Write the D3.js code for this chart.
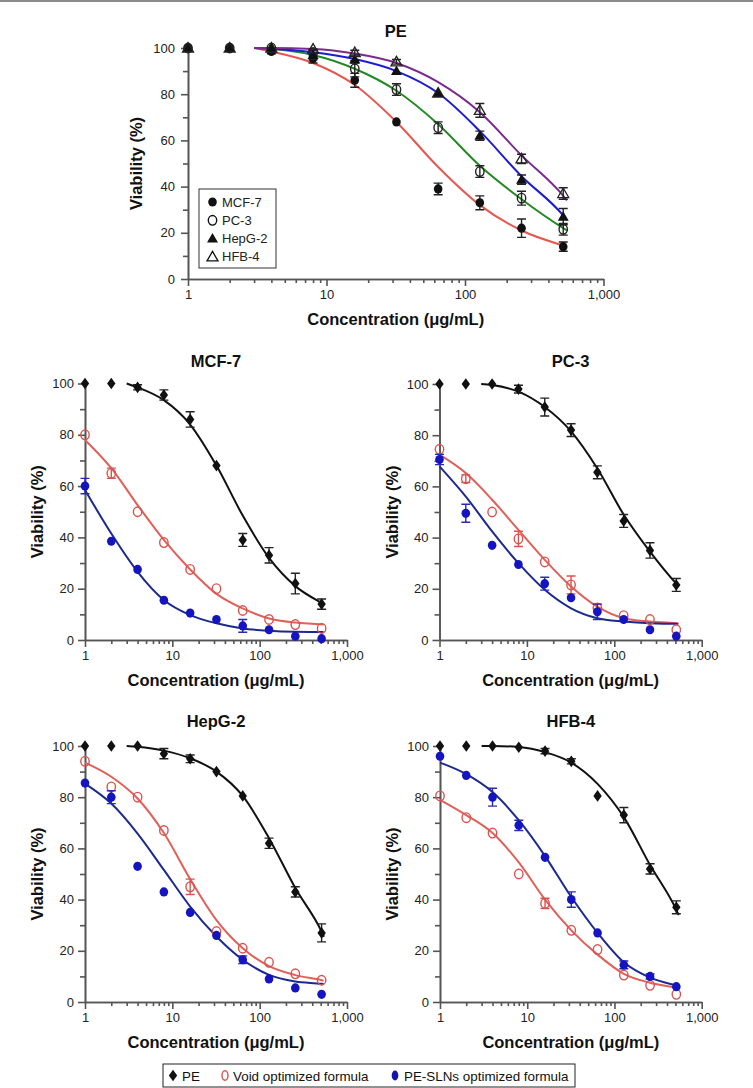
<!DOCTYPE html>
<html>
<head>
<meta charset="utf-8">
<script src="https://cdn.jsdelivr.net/npm/d3@7"></script>
<style>
  body { margin: 0; background: #fff; }
  text { font-family: "Liberation Sans", Arial, sans-serif; }
</style>
</head>
<body>
<svg id="chart" width="753" height="1088"></svg>
<script>
// concentrations (µg/mL), doubling series
const conc = [1, 2, 4, 8, 16, 32, 64, 128, 256, 512];
const fitConcPE = [3, 4, 8, 16, 32, 64, 128, 256, 512, 545];
const fitConcLow = [1, 2, 4, 8, 16, 32, 64, 128, 256, 512, 540];

// PE on each cell line (used in the top panel and as black series below)
const peMCF7  = [100, 100, 98.5, 95.5, 86, 68, 39, 33, 22, 14];
const peMCF7Err = [0, 0, 1, 2, 3, 0, 2.5, 3, 4, 2];
const pePC3   = [100, 100, 100, 98, 91, 82, 65.5, 46.5, 35, 21.5];
const pePC3Err = [0, 0, 0, 1.5, 3.5, 2.5, 2.5, 2.5, 3, 2.5];
const peHepG2 = [100, 100, 100, 97, 95, 90, 80.5, 62, 43, 27];
const peHepG2Err = [0, 0, 0, 2, 1.5, 0, 0, 2, 2, 3.5];
const peHFB4  = [100, 100, 100, 99.5, 98, 94, 80.5, 73, 52, 37];
const peHFB4Err = [0, 0, 0, 0, 1, 1, 0, 3, 2, 2.5];

// fitted curves for PE
const fitPEMCF7  = [100, 98.5, 93.5, 84, 68, 48.5, 32, 21, 14.5, 14];
const fitPEPC3   = [100, 99.6, 97, 91, 81.5, 67, 49, 34.5, 22, 21];
const fitPEHepG2 = [100, 99.7, 98.2, 95.2, 90, 80.5, 64, 44.5, 27.5, 25.5];
const fitPEHFB4  = [100, 100, 99.6, 97.6, 93.5, 85.2, 72.2, 53.5, 36, 34];

// void optimized formula
const voidMCF7  = [80, 65, 50, 38, 27.5, 20, 11.5, 8, 6, 4.5];
const voidMCF7Err = [0, 2, 0, 0, 0, 0, 0, 0, 0, 0];
const voidPC3   = [74.5, 63, 50, 39.5, 30.5, 21.5, 12.5, 9.5, 8, 4];
const voidPC3Err = [0, 1.5, 0, 3, 0, 3.5, 1.5, 0, 0, 0];
const voidHepG2 = [94, 84, 80, 67, 45, 27.5, 21, 15.5, 11, 8.5];
const voidHepG2Err = [0, 0, 0, 0, 3, 0, 0, 0, 0, 0];
const voidHFB4  = [80.5, 72, 66, 50, 38.5, 28, 20.5, 10.5, 6.5, 3];
const voidHFB4Err = [0, 0, 0, 0, 2, 0, 0, 0, 0, 0];

const fitVoidMCF7  = [78, 67, 52.6, 39, 27.5, 18, 12.3, 8.4, 6.8, 6.1, 6];
const fitVoidPC3   = [72.4, 65.2, 54.8, 43, 31.3, 20.9, 13, 8.5, 7.2, 6.5, 6.4];
const fitVoidHepG2 = [93.5, 88, 79.5, 66, 48, 32, 21, 14, 10.5, 8.5, 8.3];
const fitVoidHFB4  = [79, 73, 66, 54.5, 40, 28, 18.5, 11, 7.5, 5.5, 5.3];

// PE-SLNs optimized formula
const slnMCF7  = [60, 38.5, 27.5, 15.5, 10.5, 8, 5.5, 4, 1.5, 0.5];
const slnMCF7Err = [3, 0, 0, 0, 0, 0, 2.5, 0, 0, 0];
const slnPC3   = [70.5, 49.5, 37, 29.5, 22, 16.5, 11, 8, 4, 1.5];
const slnPC3Err = [2, 3.5, 0, 0, 2.5, 0, 3, 0, 0, 0];
const slnHepG2 = [85.5, 80, 53, 43, 35, 26, 16.5, 9, 5.5, 3];
const slnHepG2Err = [0, 2.5, 0, 0, 0, 0, 1.5, 0, 0, 0];
const slnHFB4  = [96, 88.5, 80, 69, 56.5, 40, 27, 14.5, 10, 6];
const slnHFB4Err = [0, 0, 3.5, 2, 0, 3, 0, 1.5, 1, 0];

const fitSlnMCF7  = [58.5, 41.5, 26.6, 15.6, 9.7, 6.5, 4.5, 3.6, 3.2, 3.1, 3.1];
const fitSlnPC3   = [67.8, 56, 42.4, 30, 19.6, 12.4, 8.5, 7.2, 6.5, 6.3, 6.3];
const fitSlnHepG2 = [85.3, 77.5, 65.8, 51.6, 37.3, 25.6, 16.5, 10.6, 8, 7.1, 7];
const fitSlnHFB4  = [93.5, 89, 82, 71, 57, 41, 27, 15.5, 9.5, 6.5, 6.3];

const cellLines = ["MCF-7", "PC-3", "HepG-2", "HFB-4"];
const formulas = ["PE", "Void optimized formula", "PE-SLNs optimized formula"];
const majorTicksX = [1, 10, 100, 1000];
const majorTicksY = [0, 20, 40, 60, 80, 100];
const minorTicksY = [10, 30, 50, 70, 90];

const svg = d3.select("#chart");
svg.append("rect").attr("x", 0).attr("y", 0).attr("width", 753).attr("height", 2).attr("fill", "#8a8a8a");

const minorTicksX = [1, 10, 100].flatMap(b => d3.range(2, 10).map(m => m * b));

function markerPath(shape) {
  if (shape === "diamond") return "M0,-5.8L4.2,0L0,5.8L-4.2,0Z";
  if (shape === "tri" || shape === "triOpen") return "M0,-5.5L5.5,4L-5.5,4Z";
  return null;
}

function drawMarker(g, shape, cx, cy, color) {
  if (shape === "circle") {
    g.append("ellipse").attr("cx", cx).attr("cy", cy).attr("rx", 4.3).attr("ry", 4.6).attr("fill", color);
  } else if (shape === "circleOpen") {
    g.append("ellipse").attr("cx", cx).attr("cy", cy).attr("rx", 4.2).attr("ry", 4.8)
      .attr("fill", "none").attr("stroke", color).attr("stroke-width", 1.4);
  } else if (shape === "triOpen") {
    g.append("path").attr("d", markerPath(shape)).attr("transform", `translate(${cx},${cy})`)
      .attr("fill", "none").attr("stroke", color).attr("stroke-width", 1.3);
  } else {
    g.append("path").attr("d", markerPath(shape)).attr("transform", `translate(${cx},${cy})`).attr("fill", color);
  }
}

function drawPanel(p, series) {
  const x = d3.scaleLog().domain([1, 1000]).range([p.x0, p.x1]);
  const y = d3.scaleLinear().domain([0, 100]).range([p.y1, p.y0]);
  const g = svg.append("g");

  // axes
  const ax = g.append("g").attr("class", "axes");
  ax.append("g").attr("transform", `translate(0,${p.y1})`)
    .call(d3.axisBottom(x).tickValues(minorTicksX).tickSize(4).tickSizeOuter(0).tickFormat(""));
  ax.append("g").attr("transform", `translate(0,${p.y1})`)
    .call(d3.axisBottom(x).tickValues(majorTicksX).tickSize(7).tickSizeOuter(0).tickPadding(4).tickFormat(d3.format(",")));
  ax.append("g").attr("transform", `translate(${p.x0},0)`)
    .call(d3.axisLeft(y).tickValues(minorTicksY).tickSize(5).tickSizeOuter(0).tickFormat(""));
  ax.append("g").attr("transform", `translate(${p.x0},0)`)
    .call(d3.axisLeft(y).tickValues(majorTicksY).tickSize(7).tickSizeOuter(0).tickPadding(p.pad));
  ax.selectAll("path.domain, line").attr("stroke", "#555").attr("stroke-width", 1.6);
  ax.selectAll("text").attr("font-size", 13).attr("fill", "#222")
    .attr("font-family", '"Liberation Sans", Arial, sans-serif');

  // titles
  g.append("text").attr("x", (p.x0 + p.x1) / 2).attr("y", p.titleY).attr("text-anchor", "middle")
    .attr("font-size", 16.5).attr("font-weight", "bold").attr("fill", "#111").text(p.title);
  g.append("text").attr("x", (p.x0 + p.x1) / 2).attr("y", p.y1 + 46).attr("text-anchor", "middle")
    .attr("font-size", 16.5).attr("font-weight", "bold").attr("fill", "#111").text("Concentration (μg/mL)");
  g.append("text").attr("transform", `translate(${p.x0 - p.ylab},${(p.y0 + p.y1) / 2}) rotate(-90)`)
    .attr("text-anchor", "middle").attr("dominant-baseline", "central")
    .attr("font-size", 16.5).attr("font-weight", "bold").attr("fill", "#111").text("Viability (%)");

  const line = d3.line().x(d => x(d[0])).y(d => y(d[1])).curve(d3.curveMonotoneX);

  // fitted curves
  series.forEach(s => {
    g.append("path").datum(d3.zip(s.fitX, s.fit)).attr("d", line)
      .attr("fill", "none").attr("stroke", s.line).attr("stroke-width", 2);
  });
  // error bars + markers
  series.forEach(s => {
    const eg = g.append("g");
    conc.forEach((c, i) => {
      const e = s.err[i];
      if (!e) return;
      const cx = x(c), lo = y(s.vals[i] - e), hi = y(s.vals[i] + e);
      eg.append("path").attr("d", `M${cx},${lo}V${hi}M${cx - 4.5},${lo}H${cx + 4.5}M${cx - 4.5},${hi}H${cx + 4.5}`)
        .attr("stroke", s.errColor).attr("stroke-width", 1.4).attr("fill", "none");
    });
    conc.forEach((c, i) => drawMarker(eg, s.shape, x(c), y(s.vals[i]), s.color));
  });
}

// top panel: PE on the four cell lines
drawPanel({ title: "PE", x0: 188, x1: 603.5, y0: 48, y1: 279, titleY: 37, pad: 6, ylab: 52 }, [
  { vals: peMCF7, err: peMCF7Err, fitX: fitConcPE, fit: fitPEMCF7, shape: "circle", color: "#111", line: "#e5574f", errColor: "#222" },
  { vals: pePC3, err: pePC3Err, fitX: fitConcPE, fit: fitPEPC3, shape: "circleOpen", color: "#222", line: "#228a22", errColor: "#222" },
  { vals: peHepG2, err: peHepG2Err, fitX: fitConcPE, fit: fitPEHepG2, shape: "tri", color: "#111", line: "#1c1cd0", errColor: "#222" },
  { vals: peHFB4, err: peHFB4Err, fitX: fitConcPE, fit: fitPEHFB4, shape: "triOpen", color: "#222", line: "#7a2a8c", errColor: "#222" }
]);

// legend of the top panel
const lg = svg.append("g");
lg.append("rect").attr("x", 199).attr("y", 189).attr("width", 77).attr("height", 79)
  .attr("fill", "#fff").attr("stroke", "#333").attr("stroke-width", 1);
const topShapes = ["circle", "circleOpen", "tri", "triOpen"];
cellLines.forEach((name, i) => {
  const yy = 202 + i * 18.3;
  drawMarker(lg, topShapes[i], 212.5, yy, "#111");
  lg.append("text").attr("x", 222).attr("y", yy + 4.5).attr("font-size", 13).attr("fill", "#222").text(name);
});

// four panels: PE vs formulas on each cell line
const subPanels = [
  { title: "MCF-7", x0: 85, x1: 347, y0: 383.5, y1: 640, titleY: 367,
    pe: peMCF7, peErr: peMCF7Err, fitPE: fitPEMCF7, vd: voidMCF7, vdErr: voidMCF7Err, fitVd: fitVoidMCF7,
    sl: slnMCF7, slErr: slnMCF7Err, fitSl: fitSlnMCF7 },
  { title: "PC-3", x0: 439.5, x1: 701.7, y0: 384, y1: 640, titleY: 367,
    pe: pePC3, peErr: pePC3Err, fitPE: fitPEPC3, vd: voidPC3, vdErr: voidPC3Err, fitVd: fitVoidPC3,
    sl: slnPC3, slErr: slnPC3Err, fitSl: fitSlnPC3 },
  { title: "HepG-2", x0: 85, x1: 347, y0: 746, y1: 1002, titleY: 727,
    pe: peHepG2, peErr: peHepG2Err, fitPE: fitPEHepG2, vd: voidHepG2, vdErr: voidHepG2Err, fitVd: fitVoidHepG2,
    sl: slnHepG2, slErr: slnHepG2Err, fitSl: fitSlnHepG2 },
  { title: "HFB-4", x0: 440, x1: 701.7, y0: 746, y1: 1002, titleY: 727,
    pe: peHFB4, peErr: peHFB4Err, fitPE: fitPEHFB4, vd: voidHFB4, vdErr: voidHFB4Err, fitVd: fitVoidHFB4,
    sl: slnHFB4, slErr: slnHFB4Err, fitSl: fitSlnHFB4 }
];

subPanels.forEach(p => {
  drawPanel({ title: p.title, x0: p.x0, x1: p.x1, y0: p.y0, y1: p.y1, titleY: p.titleY, pad: 4, ylab: 48 }, [
    { vals: p.pe, err: p.peErr, fitX: fitConcPE, fit: p.fitPE, shape: "diamond", color: "#111", line: "#111", errColor: "#222" },
    { vals: p.vd, err: p.vdErr, fitX: fitConcLow, fit: p.fitVd, shape: "circleOpen", color: "#d9534f", line: "#e0605a", errColor: "#d9534f" },
    { vals: p.sl, err: p.slErr, fitX: fitConcLow, fit: p.fitSl, shape: "circle", color: "#1414c0", line: "#1c2a90", errColor: "#2a2ab0" }
  ]);
});

// bottom legend
const bl = svg.append("g");
bl.append("rect").attr("x", 163).attr("y", 1064).attr("width", 412).attr("height", 23)
  .attr("fill", "#fff").attr("stroke", "#222").attr("stroke-width", 1);
const legendItems = [
  { name: formulas[0], shape: "diamond", color: "#111", mx: 173, tx: 182 },
  { name: formulas[1], shape: "circleOpen", color: "#d9534f", mx: 225, tx: 233 },
  { name: formulas[2], shape: "circle", color: "#1414a8", mx: 395, tx: 404 }
];
legendItems.forEach(it => {
  if (it.shape === "circleOpen") {
    bl.append("ellipse").attr("cx", it.mx).attr("cy", 1075.5).attr("rx", 3).attr("ry", 4.8)
      .attr("fill", "none").attr("stroke", it.color).attr("stroke-width", 1.4);
  } else if (it.shape === "circle") {
    bl.append("ellipse").attr("cx", it.mx).attr("cy", 1075.5).attr("rx", 3.3).attr("ry", 5).attr("fill", it.color);
  } else {
    drawMarker(bl, it.shape, it.mx, 1075.5, it.color);
  }
  bl.append("text").attr("x", it.tx).attr("y", 1080.5).attr("font-size", 13.4).attr("fill", "#111").text(it.name);
});
</script>
</body>
</html>
